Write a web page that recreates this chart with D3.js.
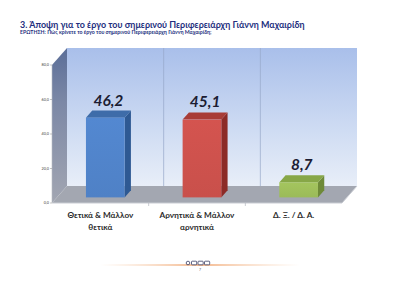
<!DOCTYPE html>
<html>
<head>
<meta charset="utf-8">
<script src="https://d3js.org/d3.v7.min.js"></script>
<style>
  html, body { margin: 0; padding: 0; background: #fff; }
  svg { display: block; }
</style>
</head>
<body>
<svg id="chart"></svg>
<script>
const categories = ["Θετικά & Μάλλον θετικά", "Αρνητικά & Μάλλον αρνητικά", "Δ. Ξ. / Δ. Α."]
const categoryLines = [["Θετικά & Μάλλον", "θετικά"], ["Αρνητικά & Μάλλον", "αρνητικά"], ["Δ. Ξ. / Δ. Α."]]
const values = [46.2, 45.1, 8.7]
const valueLabels = ["46,2", "45,1", "8,7"]
const yTicks = [0, 20, 40, 60, 80]
const yTickLabels = ["0,0", "20,0", "40,0", "60,0", "80,0"]
const barColors = [
  {front: "#4f81c6", side: "#2e5993", top: "#3e6ca9"},
  {front: "#c9504b", side: "#8c2b27", top: "#a83c37"},
  {front: "#9bbb59", side: "#6e8a38", top: "#87a747"}
]

const width = 400, height = 283
const font = "Lato, 'Open Sans', sans-serif"
const svg = d3.select("#chart").attr("width", width).attr("height", height)

// 3d box: front plane and depth offset to the back wall
const left = 52, right = 342
const depthX = 15, depthY = -17

const x = d3.scaleBand().domain(categories).range([left, right]).paddingInner(0).paddingOuter(0)
const y = d3.scaleLinear().domain([0, 80]).range([203, 65])

const defs = svg.append("defs")
function grad(id, stops) {
  let g = defs.append("linearGradient").attr("id", id)
    .attr("x1", 0).attr("y1", 0).attr("x2", 0).attr("y2", 1)
  stops.forEach(s => g.append("stop").attr("offset", s[0]).attr("stop-color", s[1]))
}
grad("backWall", [[0, "#a9bfea"], [0.6, "#cfdcf3"], [1, "#e8eef8"]])
grad("sideWall", [[0, "#5b6e98"], [0.35, "#7c88a6"], [1, "#a2a6b2"]])
barColors.forEach((c, i) => grad("barFront" + i, [[0, d3.color(c.front).brighter(0.15)], [1, c.front]]))

const line = d3.line()

// title
svg.append("text")
  .attr("x", 20).attr("y", 27.5)
  .style("font-family", font)
  .style("font-weight", "bold")
  .style("font-size", "8.95px")
  .style("fill", "#232f7e")
  .text("3. Άποψη για το έργο του σημερινού Περιφερειάρχη Γιάννη Μαχαιρίδη")

svg.append("text")
  .attr("x", 20).attr("y", 33.5)
  .style("font-family", font)
  .style("font-weight", "bold")
  .style("font-size", "5.2px")
  .style("fill", "#232f7e")
  .text("ΕΡΩΤΗΣΗ: Πώς κρίνετε το έργο του σημερινού Περιφερειάρχη Γιάννη Μαχαιρίδη;")

// walls
let plot = svg.append("g")
let y0 = y(0), yTop = y(80)

plot.append("path")
  .attr("d", line([[left + depthX, yTop + depthY], [right + depthX, yTop + depthY],
    [right + depthX, y0 + depthY], [left + depthX, y0 + depthY]]) + "Z")
  .style("fill", "url(#backWall)")

plot.append("path")
  .attr("d", line([[left, yTop], [left + depthX, yTop + depthY],
    [left + depthX, y0 + depthY], [left, y0]]) + "Z")
  .style("fill", "url(#sideWall)")

plot.append("path")
  .attr("d", line([[left, y0], [right, y0], [right + depthX, y0 + depthY], [left + depthX, y0 + depthY]]) + "Z")
  .style("fill", "#a3a7b1")

// front edge of floor
plot.append("path")
  .attr("d", line([[left, y0], [right, y0], [right + depthX, y0 + depthY]]))
  .style("fill", "none")
  .style("stroke", "#c9ccd3")
  .style("stroke-width", 1)

// category dividers on the back wall
categories.slice(1).forEach(c => {
  plot.append("line")
    .attr("x1", x(c) + depthX).attr("x2", x(c) + depthX)
    .attr("y1", yTop + depthY).attr("y2", y0 + depthY)
    .style("stroke", "#97a8c8")
    .style("stroke-width", 0.7)
  plot.append("line")
    .attr("x1", x(c)).attr("x2", x(c))
    .attr("y1", y0).attr("y2", y0 + 3)
    .style("stroke", "#b5b8c0")
    .style("stroke-width", 0.7)
})

// value axis
plot.append("line")
  .attr("x1", left).attr("x2", left).attr("y1", yTop).attr("y2", y0)
  .style("stroke", "#b9bcc4").style("stroke-width", 0.6)

yTicks.forEach((t, i) => {
  plot.append("line")
    .attr("x1", left - 2).attr("x2", left).attr("y1", y(t)).attr("y2", y(t))
    .style("stroke", "#888").style("stroke-width", 0.5)
  plot.append("text")
    .attr("x", left - 3).attr("y", y(t) + 1.3)
    .attr("text-anchor", "end")
    .style("font-family", font)
    .style("font-size", "3.8px")
    .style("fill", "#444")
    .text(yTickLabels[i])
})

// bars
const barFrac = 0.4
const frontT = 0.33, backT = 0.75
let bars = plot.append("g")

values.forEach((v, i) => {
  let c = barColors[i]
  let bw = x.bandwidth() * barFrac
  let bx0 = x(categories[i]) + (x.bandwidth() - bw) / 2 + depthX * frontT
  let bx1 = bx0 + bw
  let by0 = y(0) + depthY * frontT
  let byT = y(v) + depthY * frontT
  let dx = depthX * (backT - frontT), dy = depthY * (backT - frontT)

  bars.append("path")
    .attr("d", line([[bx1, byT], [bx1 + dx, byT + dy], [bx1 + dx, by0 + dy], [bx1, by0]]) + "Z")
    .style("fill", c.side)
  bars.append("path")
    .attr("d", line([[bx0, byT], [bx0 + dx, byT + dy], [bx1 + dx, byT + dy], [bx1, byT]]) + "Z")
    .style("fill", c.top)
  bars.append("rect")
    .attr("x", bx0).attr("y", byT)
    .attr("width", bw).attr("height", by0 - byT)
    .style("fill", "url(#barFront" + i + ")")

  bars.append("text")
    .attr("x", (bx0 + bx1) / 2 + dx / 2)
    .attr("y", byT + dy - 5)
    .attr("text-anchor", "middle")
    .style("font-family", font)
    .style("font-weight", "bold")
    .style("font-style", "italic")
    .style("font-size", "15.5px")
    .style("fill", "#1c1d33")
    .text(valueLabels[i])
})

// category labels
categories.forEach((c, i) => {
  let t = plot.append("text")
    .attr("text-anchor", "middle")
    .style("font-family", font)
    .style("font-weight", "bold")
    .style("font-size", "8.2px")
    .style("fill", "#2b2b2b")
  categoryLines[i].forEach((s, j) => {
    t.append("tspan")
      .attr("x", x(c) + x.bandwidth() / 2)
      .attr("y", 218 + j * 12)
      .text(s)
  })
})

// footer
let fl = defs.append("linearGradient").attr("id", "footH")
fl.append("stop").attr("offset", 0).attr("stop-color", "#f0a060").attr("stop-opacity", 0)
fl.append("stop").attr("offset", 0.5).attr("stop-color", "#e8731f")
fl.append("stop").attr("offset", 1).attr("stop-color", "#f0a060").attr("stop-opacity", 0)
svg.append("rect")
  .attr("x", 100).attr("y", 264.5).attr("width", 200).attr("height", 1)
  .style("fill", "url(#footH)")

let logo = svg.append("g").attr("transform", "translate(186,261)")
logo.append("circle").attr("cx", 2).attr("cy", 2).attr("r", 1.8)
  .style("fill", "none").style("stroke", "#3a3f66").style("stroke-width", 0.8)
;[5.5, 12, 18.5].forEach(px => {
  logo.append("rect").attr("x", px).attr("y", 0.2).attr("width", 5.2).attr("height", 3.6)
    .attr("rx", 0.8)
    .style("fill", "#fff").style("stroke", "#3a3f66").style("stroke-width", 0.8)
})

svg.append("text")
  .attr("x", 200).attr("y", 270.5)
  .attr("text-anchor", "middle")
  .style("font-family", font)
  .style("font-size", "3.6px")
  .style("fill", "#555")
  .text("7")
</script>
</body>
</html>
